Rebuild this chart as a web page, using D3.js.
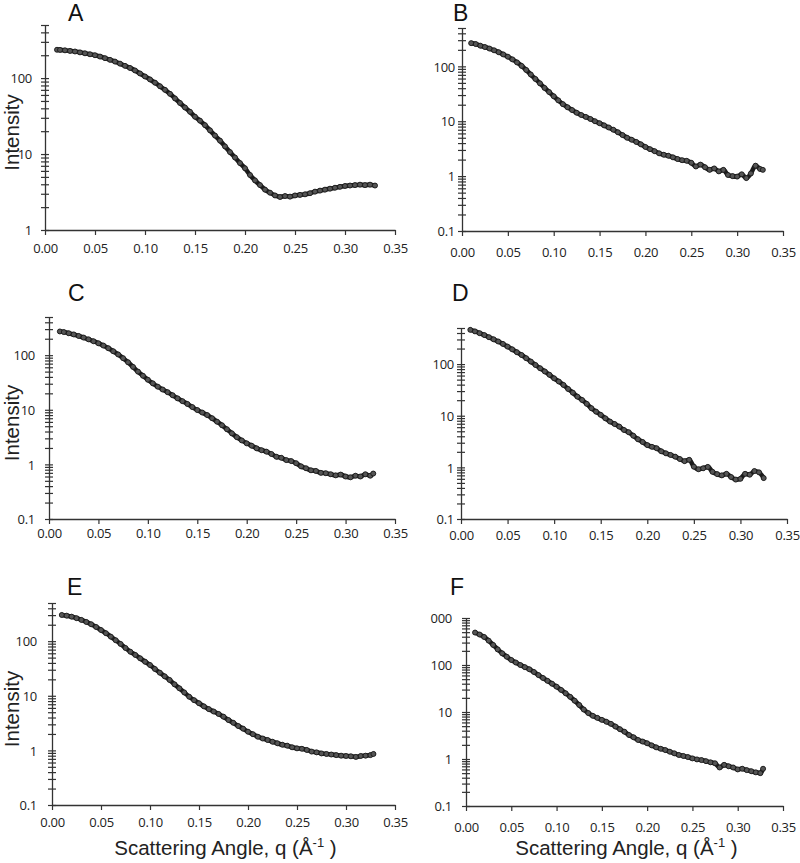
<!DOCTYPE html>
<html><head><meta charset="utf-8">
<script src="https://cdn.jsdelivr.net/npm/d3@7/dist/d3.min.js"></script>
<style>body{margin:0;background:#fff} svg{display:block}</style>
</head><body>
<svg id="chart" width="800" height="863"></svg>
<script>
// ---------- DATA ----------
const panelNames = ["A","B","C","D","E","F"];
const xTickValues = [0,0.05,0.10,0.15,0.20,0.25,0.30,0.35];
const xTickLabels = ["0.00","0.05","0.10","0.15","0.20","0.25","0.30","0.35"];
const xLabel = "Scattering Angle, q (Å";
const yLabel = "Intensity";

const yDomainA = [1,500];
const yDomainB = [0.1,500];
const yDomainC = [0.1,500];
const yDomainD = [0.1,500];
const yDomainE = [0.1,500];
const yDomainF = [0.1,1000];

const yLabelValuesA = [1,10,100];
const yLabelTextsA = ["1","10","100"];
const yLabelValuesStd = [0.1,1,10,100];
const yLabelTextsStd = ["0.1","1","10","100"];
const yLabelValuesF = [0.1,1,10,100,1000];
const yLabelTextsF = ["0.1","1","10","100","000"];

const qA = [0.012,0.015,0.020,0.025,0.030,0.035,0.040,0.045,0.050,0.055,0.060,0.065,0.070,0.075,0.080,0.085,0.090,0.095,0.100,0.105,0.110,0.115,0.120,0.125,0.130,0.135,0.140,0.145,0.150,0.155,0.160,0.165,0.170,0.175,0.180,0.185,0.190,0.195,0.200,0.205,0.210,0.215,0.220,0.225,0.230,0.235,0.240,0.245,0.250,0.255,0.260,0.265,0.270,0.275,0.280,0.285,0.290,0.295,0.300,0.305,0.310,0.315,0.320,0.325,0.330];
const intensityA = [236,235,232,228,224,218,212,206,200,192,183,174,165,155,145,136,126,115,105,96,87,78,70,62,54,47,41,36,31,27.5,24,20.5,17.5,15,12.6,10.6,9,7.6,6.5,5.3,4.5,3.9,3.4,3.1,2.85,2.72,2.8,2.75,2.85,2.9,2.95,3.05,3.2,3.3,3.4,3.5,3.6,3.7,3.8,3.85,3.9,3.95,3.9,3.95,3.85];

const qB = [0.010,0.015,0.020,0.025,0.030,0.035,0.040,0.045,0.050,0.055,0.060,0.065,0.070,0.075,0.080,0.085,0.090,0.095,0.100,0.105,0.110,0.115,0.120,0.125,0.130,0.135,0.140,0.145,0.150,0.155,0.160,0.165,0.170,0.175,0.180,0.185,0.190,0.195,0.200,0.205,0.210,0.215,0.220,0.225,0.230,0.235,0.240,0.245,0.250,0.255,0.260,0.265,0.270,0.275,0.280,0.285,0.290,0.295,0.300,0.305,0.310,0.315,0.320,0.325,0.328];
const intensityB = [265,255,238,225,211,196,181,165,150,134,118,102,86,71,59,49,40.5,34,28.5,24,20.5,18,16,14.3,13,12,11,10,9.2,8.4,7.7,7,6.3,5.6,5.0,4.6,4.2,3.8,3.4,3.1,2.85,2.6,2.45,2.35,2.2,2.05,1.95,1.9,1.75,1.5,1.62,1.45,1.3,1.38,1.22,1.3,1.05,1.0,0.98,1.08,0.92,1.12,1.55,1.35,1.3];

const qC = [0.011,0.015,0.020,0.025,0.030,0.035,0.040,0.045,0.050,0.055,0.060,0.065,0.070,0.075,0.080,0.085,0.090,0.095,0.100,0.105,0.110,0.115,0.120,0.125,0.130,0.135,0.140,0.145,0.150,0.155,0.160,0.165,0.170,0.175,0.180,0.185,0.190,0.195,0.200,0.205,0.210,0.215,0.220,0.225,0.230,0.235,0.240,0.245,0.250,0.255,0.260,0.265,0.270,0.275,0.280,0.285,0.290,0.295,0.300,0.305,0.310,0.315,0.320,0.325,0.328];
const intensityC = [272,265,252,240,225,210,195,180,165,150,134,118,103,88,74,61,50,42,35.5,30.5,26.5,23.5,21,18.5,16.2,14.4,12.8,11.2,9.9,8.9,8.0,7.0,6.05,5.2,4.4,3.7,3.15,2.75,2.43,2.2,1.97,1.82,1.71,1.55,1.38,1.32,1.2,1.15,1.05,0.92,0.85,0.78,0.76,0.7,0.69,0.66,0.63,0.65,0.6,0.58,0.62,0.6,0.66,0.62,0.68];

const qD = [0.010,0.015,0.020,0.025,0.030,0.035,0.040,0.045,0.050,0.055,0.060,0.065,0.070,0.075,0.080,0.085,0.090,0.095,0.100,0.105,0.110,0.115,0.120,0.125,0.130,0.135,0.140,0.145,0.150,0.155,0.160,0.165,0.170,0.175,0.180,0.185,0.190,0.195,0.200,0.205,0.210,0.215,0.220,0.225,0.230,0.235,0.240,0.245,0.250,0.255,0.260,0.265,0.270,0.275,0.280,0.285,0.290,0.295,0.300,0.305,0.310,0.315,0.320,0.325];
const intensityD = [460,430,397,365,332,302,274,246,218,193,170,150,130,112,96,83,72,62,53,46,39.5,33,28,23.4,20.2,17,14,12,10.4,8.9,7.7,6.9,6.15,5.3,4.8,4.1,3.5,3.1,2.7,2.5,2.35,2.05,1.87,1.74,1.61,1.45,1.32,1.4,1.03,0.92,0.96,1.02,0.82,0.74,0.7,0.75,0.65,0.58,0.6,0.75,0.72,0.85,0.8,0.62];

const qE = [0.010,0.015,0.020,0.025,0.030,0.035,0.040,0.045,0.050,0.055,0.060,0.065,0.070,0.075,0.080,0.085,0.090,0.095,0.100,0.105,0.110,0.115,0.120,0.125,0.130,0.135,0.140,0.145,0.150,0.155,0.160,0.165,0.170,0.175,0.180,0.185,0.190,0.195,0.200,0.205,0.210,0.215,0.220,0.225,0.230,0.235,0.240,0.245,0.250,0.255,0.260,0.265,0.270,0.275,0.280,0.285,0.290,0.295,0.300,0.305,0.310,0.315,0.320,0.325,0.328];
const intensityE = [302,293,281,264,245,225,204,182,160,140,121,104,89,75,64,56,48.5,42,36.6,31,26.5,22.7,19.5,16.2,13.7,11.5,9.6,8.3,7.3,6.4,5.7,5.15,4.65,4.14,3.6,3.2,2.8,2.5,2.2,1.98,1.78,1.65,1.55,1.44,1.35,1.27,1.22,1.14,1.09,1.07,1.02,0.95,0.92,0.88,0.86,0.84,0.82,0.8,0.79,0.78,0.76,0.79,0.8,0.82,0.86];

const qF = [0.010,0.015,0.020,0.025,0.030,0.035,0.040,0.045,0.050,0.055,0.060,0.065,0.070,0.075,0.080,0.085,0.090,0.095,0.100,0.105,0.110,0.115,0.120,0.125,0.130,0.135,0.140,0.145,0.150,0.155,0.160,0.165,0.170,0.175,0.180,0.185,0.190,0.195,0.200,0.205,0.210,0.215,0.220,0.225,0.230,0.235,0.240,0.245,0.250,0.255,0.260,0.265,0.270,0.275,0.280,0.285,0.290,0.295,0.300,0.305,0.310,0.315,0.320,0.325,0.328];
const intensityF = [490,445,395,330,267,215,177,150,128,113,100,90,81,71,61,53,46,40,34.6,29.5,25,21,17.4,14.1,11.3,9.5,8.3,7.5,6.8,6.2,5.6,4.9,4.3,3.8,3.24,2.9,2.54,2.35,2.16,1.95,1.77,1.65,1.55,1.43,1.32,1.22,1.16,1.1,1.03,0.98,0.95,0.9,0.85,0.81,0.66,0.75,0.7,0.66,0.6,0.62,0.58,0.55,0.52,0.5,0.62];

// ---------- LAYOUT ----------
const layout = {
  A:{x0:45, x1:395, yTop:25,  yBot:230, labGap:13, xLabOff:23, letterX:68,  letterY:21,  yLab:true,  xTitle:false},
  B:{x0:462,x1:783, yTop:28,  yBot:231, labGap:7,  xLabOff:26, letterX:453, letterY:21,  yLab:false, xTitle:false},
  C:{x0:49, x1:395, yTop:317, yBot:519, labGap:14, xLabOff:19, letterX:68,  letterY:301, yLab:true,  xTitle:false},
  D:{x0:461,x1:787, yTop:328, yBot:519, labGap:7,  xLabOff:21, letterX:452, letterY:301, yLab:false, xTitle:false},
  E:{x0:52, x1:395, yTop:603, yBot:805, labGap:15, xLabOff:22, letterX:67,  letterY:595, yLab:true,  xTitle:true},
  F:{x0:466,x1:783, yTop:618, yBot:806, labGap:14, xLabOff:26, letterX:450, letterY:595, yLab:false, xTitle:true}
};
const panelData = {
  A:{q:qA, v:intensityA, dom:yDomainA, lv:yLabelValuesA, lt:yLabelTextsA},
  B:{q:qB, v:intensityB, dom:yDomainB, lv:yLabelValuesStd, lt:yLabelTextsStd},
  C:{q:qC, v:intensityC, dom:yDomainC, lv:yLabelValuesStd, lt:yLabelTextsStd},
  D:{q:qD, v:intensityD, dom:yDomainD, lv:yLabelValuesStd, lt:yLabelTextsStd},
  E:{q:qE, v:intensityE, dom:yDomainE, lv:yLabelValuesStd, lt:yLabelTextsStd},
  F:{q:qF, v:intensityF, dom:yDomainF, lv:yLabelValuesF, lt:yLabelTextsF}
};

const svg = d3.select("#chart");
const tickFont = "'Open Sans', sans-serif";
const titleFont = "'Liberation Sans', Arial, sans-serif";
const axisColor = "#333";

panelNames.forEach(name => {
  const L = layout[name], P = panelData[name];
  const x = d3.scaleLinear().domain([0,0.35]).range([L.x0, L.x1]);
  const y = d3.scaleLog().domain(P.dom).range([L.yBot, L.yTop]);
  const g = svg.append("g");

  // data
  const pts = P.q.map((q,i)=>({q, v:P.v[i]}));
  const line = d3.line().x(d=>x(d.q)).y(d=>y(d.v)).curve(d3.curveMonotoneX);
  g.append("path").datum(pts).attr("d", line)
    .attr("fill","none").attr("stroke","#1a1a1a").attr("stroke-width",4.6)
    .attr("stroke-linejoin","round").attr("stroke-linecap","round");
  g.selectAll("circle.pt").data(pts).join("circle").attr("class","pt")
    .attr("cx", d=>x(d.q)).attr("cy", d=>y(d.v)).attr("r", 2.5)
    .attr("fill","#555").attr("stroke","#1a1a1a").attr("stroke-width",0.9);

  // y axis
  const labelMap = new Map(P.lv.map((v,i)=>[v, P.lt[i]]));
  const yAxis = d3.axisLeft(y).tickValues(y.ticks()).tickSizeInner(4).tickSizeOuter(0)
    .tickFormat(d => { for (const [k,t] of labelMap) { if (Math.abs(d-k)/k < 1e-6) return t; } return ""; });
  const ya = g.append("g").attr("transform", `translate(${L.x0},0)`).call(yAxis);
  ya.select(".domain").attr("stroke", axisColor).attr("stroke-width",1.3);
  ya.selectAll(".tick line").attr("x1",4).attr("x2",-4).attr("stroke", axisColor).attr("stroke-width",1.2);
  ya.selectAll(".tick text").attr("x",-L.labGap).attr("dy","0.36em")
    .attr("font-family", tickFont).attr("font-size", 13).attr("letter-spacing", -0.3).attr("fill","#222");

  // x axis
  const xAxis = d3.axisBottom(x).tickValues(xTickValues).tickSizeInner(5).tickSizeOuter(0)
    .tickFormat((d,i)=>xTickLabels[i]);
  const xa = g.append("g").attr("transform", `translate(0,${L.yBot})`).call(xAxis);
  xa.select(".domain").attr("stroke", axisColor).attr("stroke-width",1.3);
  xa.selectAll(".tick line").attr("stroke", axisColor).attr("stroke-width",1.2);
  xa.selectAll(".tick text").attr("y", L.xLabOff).attr("dy", 0)
    .attr("font-family", tickFont).attr("font-size", 13).attr("letter-spacing", -0.3).attr("fill","#222");

  // panel letter
  g.append("text").attr("x", L.letterX).attr("y", L.letterY).text(name)
    .attr("font-family", titleFont).attr("font-size", 23).attr("fill","#111");

  if (L.yLab) {
    const cy = (L.yTop + L.yBot)/2 + 5;
    g.append("text").attr("transform", `translate(19,${cy}) rotate(-90)`)
      .attr("text-anchor","middle").attr("font-family", titleFont).attr("font-size", 20.5)
      .attr("fill","#222").text(yLabel);
  }
  if (L.xTitle) {
    const cx = (L.x0 + L.x1)/2 + 2;
    const t = g.append("text").attr("x", cx).attr("y", 855).attr("text-anchor","middle")
      .attr("font-family", titleFont).attr("font-size", 20.5).attr("fill","#222");
    t.append("tspan").text(xLabel);
    t.append("tspan").attr("dy",-8).attr("font-size",13).text("-1");
    t.append("tspan").attr("dy",8).text(" )");
  }
});
</script>
</body></html>
